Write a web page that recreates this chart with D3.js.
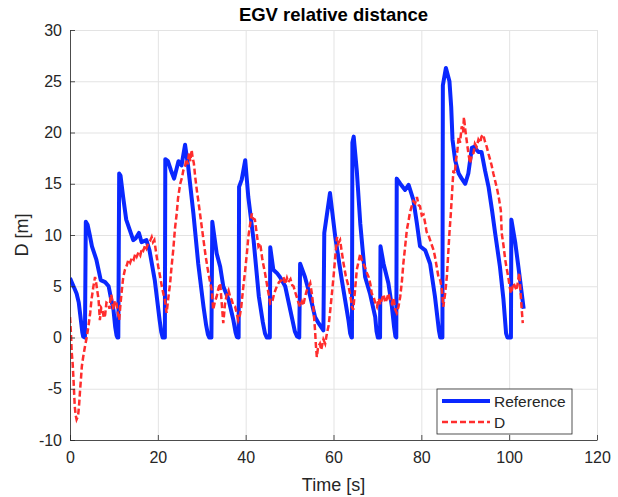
<!DOCTYPE html>
<html>
<head>
<meta charset="utf-8">
<script src="https://cdn.jsdelivr.net/npm/d3@7"></script>
<style>
  body { margin: 0; background: #fff; }
  svg { font-family: "Liberation Sans", Arial, Helvetica, sans-serif; }
  .axis path, .axis line { stroke: #262626; stroke-width: 0.8; }
  .axis text { fill: #262626; font-size: 16px; }
  .grid line { stroke: #e3e3e3; stroke-width: 1; }
  .grid path { display: none; }
</style>
</head>
<body>
<div id="canvas"></div>
<script>
// Reference trajectory (blue)
const refTime = [0, 0.5, 1, 1.5, 2, 2.5, 2.8, 3.0, 3.4, 3.6, 4, 4.5, 5, 6, 6.6, 7, 8, 8.8, 9.2, 9.9, 10.3,
  10.6, 10.8, 11.0, 11.2, 11.5, 12.1, 12.8, 13.6, 14.4, 15.0, 15.7, 16.3, 17.4, 18.1, 19.3, 20.4, 20.8, 21.1,
  21.6, 21.7, 22.3, 23.0, 23.7, 24.7, 25.4, 26.2, 26.9, 28.1, 29.2, 30.4, 31.0, 31.4, 31.7, 32.2, 32.4, 33.4,
  34.2, 34.9, 36.1, 37.2, 37.7, 38.0, 38.4, 38.5, 39.1, 39.9, 40.6, 41.8, 43.0, 43.9, 44.4, 44.8, 45.5, 45.6,
  46.3, 47.1, 47.8, 49.0, 50.5, 51.2, 51.7, 52.2, 52.4, 53.5, 54.7, 55.8, 56.6, 57.7, 57.9, 59.2, 60.4,
  61.9, 63.4, 63.8, 64.1, 64.2, 64.3, 64.6, 65.3, 66.1, 67.2, 68.3, 69.5, 69.8, 70.1, 70.6, 70.7, 71.4, 72.5,
  73.3, 73.8, 74.1, 74.3, 74.4, 75.2, 76.3, 77.1, 78.2, 79.0, 79.7, 80.9, 82.0, 83.1, 84.0, 84.3, 84.8, 84.9,
  85.6, 86.4, 86.8, 87.1, 87.7, 88.5, 89.2, 90.0, 90.7, 91.5, 92.0, 93.0, 93.7, 94.5, 95.3, 96.1,
  96.8, 97.9, 98.7, 99.3, 99.6, 100.4, 100.5, 101.4, 102.1, 103.3];
const refDist = [5.8, 5.3, 4.8, 4.3, 3.4, 1.6, 0.5, 0.1, 0, 11.3, 11.0, 10.0, 8.9, 7.6, 6.4, 5.6, 5.4, 5.0, 4.1, 2.7, 1.0,
  0.2, 0, 0, 16.0, 15.8, 13.7, 11.5, 10.5, 9.5, 9.7, 10.2, 9.3, 9.5, 8.5, 5.6, 1.7, 0.5, 0,
  0, 17.4, 17.2, 16.3, 15.5, 17.2, 16.8, 18.8, 16.7, 12.1, 7.2, 3.0, 1.2, 0.3, 0, 0, 11.3, 8.2,
  6.9, 5.0, 3.7, 1.7, 0.5, 0.05, 0, 14.7, 15.4, 17.3, 13.7, 9.5, 4.0, 1.5, 0.4, 0, 0, 8.8,
  6.6, 6.3, 5.9, 5.0, 2.0, 0.6, 0.1, 0, 7.2, 5.9, 4.0, 2.0, 1.4, 0.7, 10.2, 14.1, 9.8,
  5.6, 1.7, 0.4, 0, 0, 19.0, 19.6, 16.3, 11.1, 5.9, 4.3, 2.0, 0.6, 0, 0, 8.9, 7.2, 5.3,
  3.0, 1.0, 0.1, 0, 15.5, 15.0, 14.4, 14.9, 13.4, 11.1, 8.9, 8.5, 7.2, 4.0, 0.7, 0, 0, 24.6,
  26.3, 25.0, 22.5, 19.3, 17.3, 16.0, 15.5, 15.0, 16.0, 18.5, 18.6, 18.1, 18.1, 16.3, 14.7, 12.4,
  10.2, 6.9, 3.7, 0.4, 0, 0, 11.5, 9.2, 6.9, 2.8];

// Measured distance D (red, noisy)
const dTime = [0, 0.2, 0.4, 0.6, 0.8, 1.0, 1.1, 1.3, 1.5, 1.7, 1.9, 2.1, 2.3, 2.5, 2.7, 3.0, 3.4, 3.8, 4.2, 4.6,
  4.9, 5.3, 5.7, 5.9, 6.2, 6.5, 6.8, 7.1, 7.4, 7.7, 8.0, 8.3, 8.7, 9.0, 9.3, 9.5, 9.7, 9.9, 10.2, 10.6,
  10.9, 11.2, 11.5, 11.8, 12.1, 12.5, 12.9, 13.3, 13.7, 14.1, 14.5, 14.9, 15.2, 15.6, 16.0, 16.4, 16.7, 17.1, 17.4, 17.8,
  18.2, 18.6, 18.9, 19.2, 19.4, 19.7, 20.1, 20.5, 20.9, 21.3, 21.6, 22.0, 22.4, 22.8, 23.1, 23.5, 23.9, 24.3, 24.6, 25.1,
  25.5, 25.8, 26.2, 26.5, 26.8, 27.1, 27.4, 27.7, 27.9, 28.2, 28.5, 28.9, 29.2, 29.6, 30.0, 30.4, 30.9, 31.5, 31.9, 32.3,
  32.6, 33.0, 33.4, 33.8, 34.2, 34.5, 34.9, 35.3, 35.7, 36.1, 36.5, 36.8, 37.2, 37.6, 38.0, 38.3, 38.7, 39.0, 39.4, 39.9,
  40.3, 40.6, 41.0, 41.4, 41.7, 42.1, 42.5, 42.9, 43.3, 43.8, 44.4, 45.0, 45.6, 46.0, 46.5, 47.1, 47.6, 48.2, 48.6, 49.0,
  49.4, 49.7, 50.2, 50.6, 50.9, 51.3, 51.6, 52.0, 52.4, 52.8, 53.1, 53.5, 53.9, 54.3, 54.7, 55.1, 55.4, 55.8, 56.0, 56.2,
  56.5, 56.9, 57.2, 57.7, 58.1, 58.5, 58.9, 59.2, 59.6, 60.0, 60.4, 60.8, 61.1, 61.5, 61.9, 62.3, 62.8, 63.4, 63.8, 64.2,
  64.5, 64.9, 65.3, 65.7, 66.1, 66.4, 66.8, 67.2, 67.6, 68.0, 68.4, 68.7, 69.1, 69.5, 69.9, 70.3, 70.7, 71.0, 71.4, 71.8,
  72.1, 72.5, 72.9, 73.3, 73.7, 74.0, 74.4, 74.8, 75.2, 75.6, 75.9, 76.3, 76.7, 77.1, 77.4, 77.8, 78.2, 78.6, 79.0, 79.4,
  79.7, 80.1, 80.5, 80.9, 81.2, 81.6, 82.0, 82.4, 82.8, 83.1, 83.5, 83.9, 84.3, 84.7, 85.0, 85.4, 85.8, 86.1, 86.4, 86.7,
  86.9, 87.3, 87.6, 87.9, 88.2, 88.5, 88.8, 89.2, 89.5, 89.7, 90.0, 90.3, 90.7, 91.1, 91.5, 91.9, 92.2, 92.6, 93.0, 93.4,
  93.7, 94.1, 94.5, 94.9, 95.3, 95.7, 96.0, 96.4, 96.8, 97.3, 97.7, 98.1, 98.3, 98.7, 99.1, 99.4, 99.8, 100.1, 100.4, 100.7,
  101.0, 101.4, 101.7, 102.0, 102.3, 102.5, 102.7, 102.9, 103.1];
const dDist = [2.0, 0.5, -1.5, -2.5, -4.1, -6.0, -6.8, -7.6, -8.0, -7.8, -7.4, -6.4, -5.1, -4.0, -2.8, -1.9, -0.9, 0.0, 1.1, 2.4,
  3.7, 4.9, 5.9, 5.5, 4.6, 3.7, 1.7, 2.9, 2.7, 1.9, 2.2, 3.4, 3.3, 2.8, 4.2, 4.0, 3.2, 2.7, 3.6, 3.3,
  2.4, 1.7, 3.3, 4.6, 5.8, 6.6, 7.0, 7.6, 7.3, 7.8, 7.6, 8.2, 7.9, 8.3, 8.0, 8.7, 8.5, 9.0, 8.7, 9.2,
  9.4, 9.8, 9.3, 9.5, 8.9, 8.0, 6.9, 6.0, 5.0, 4.2, 3.7, 2.4, 3.9, 5.3, 6.8, 8.5, 10.6, 12.1, 13.6, 15.0,
  15.6, 16.3, 16.7, 17.4, 16.9, 18.0, 17.2, 18.3, 17.6, 17.0, 15.7, 14.3, 13.4, 12.1, 10.8, 9.5, 7.9, 6.3, 5.4, 4.6,
  2.7, 3.5, 4.0, 4.8, 5.3, 3.6, 1.4, 3.3, 4.2, 4.6, 3.9, 3.7, 3.1, 3.0, 2.3, 1.7, 2.2, 3.0, 4.7, 6.6,
  8.3, 9.8, 11.0, 12.1, 11.6, 11.5, 10.2, 8.9, 9.2, 7.6, 6.3, 4.8, 3.3, 3.4, 4.3, 5.0, 5.4, 5.6, 5.9, 5.2,
  5.8, 5.4, 5.7, 5.1, 5.0, 4.4, 4.0, 3.4, 3.0, 3.5, 3.1, 3.9, 4.6, 4.9, 5.3, 4.2, 3.0, 0.7, -0.8, -1.9,
  -0.9, -0.6, -1.2, -0.2, -0.6, 0.4, 1.2, 2.4, 4.1, 5.9, 7.9, 9.8, 9.2, 9.5, 8.3, 7.2, 6.0, 5.0, 4.2, 3.0,
  2.7, 4.6, 6.6, 7.4, 8.2, 7.6, 7.2, 6.8, 6.3, 5.9, 5.2, 4.3, 4.0, 3.4, 3.0, 3.8, 3.2, 3.7, 4.2, 3.4,
  3.7, 4.3, 3.6, 3.3, 3.9, 2.8, 2.4, 3.0, 4.0, 5.6, 7.2, 8.8, 10.5, 11.4, 12.2, 12.8, 13.3, 13.1, 13.7, 12.9,
  12.8, 11.9, 12.0, 11.1, 10.3, 10.0, 9.5, 9.0, 8.5, 7.9, 6.9, 5.9, 5.6, 4.6, 3.0, 4.2, 5.9, 8.0, 10.2, 12.0,
  13.4, 16.3, 16.0, 17.3, 18.2, 19.6, 19.0, 20.6, 20.0, 21.5, 20.3, 19.3, 18.0, 17.0, 17.8, 18.0, 18.9, 18.6, 19.3, 19.0,
  19.6, 19.8, 19.1, 18.6, 17.9, 17.3, 16.8, 16.0, 15.3, 14.4, 13.5, 12.4, 10.2, 9.0, 7.6, 6.8, 5.9, 5.0, 4.3, 4.8,
  5.3, 4.9, 4.6, 5.5, 6.3, 5.0, 3.7, 2.5, 1.4];

const xTicks = [0, 20, 40, 60, 80, 100, 120];
const yTicks = [-10, -5, 0, 5, 10, 15, 20, 25, 30];

const width = 618, height = 497;
const plotLeft = 70, plotRight = 597, plotTop = 30, plotBottom = 440;

const refColor = "#0a28ff";
const dColor = "#ff2d2d";

const svg = d3.select("#canvas").append("svg")
  .attr("width", width)
  .attr("height", height);

const x = d3.scaleLinear().domain([0, 120]).range([plotLeft, plotRight]);
const y = d3.scaleLinear().domain([-10, 30]).range([plotBottom, plotTop]);

// grid lines first so data sits on top
svg.append("g")
  .attr("class", "grid")
  .attr("transform", `translate(0,${plotBottom})`)
  .call(d3.axisBottom(x).tickValues(xTicks).tickSize(-(plotBottom - plotTop)).tickFormat(""));
svg.append("g")
  .attr("class", "grid")
  .attr("transform", `translate(${plotLeft},0)`)
  .call(d3.axisLeft(y).tickValues(yTicks).tickSize(-(plotRight - plotLeft)).tickFormat(""));

svg.append("defs").append("clipPath")
  .attr("id", "plot-clip")
  .append("rect")
  .attr("x", plotLeft).attr("y", plotTop)
  .attr("width", plotRight - plotLeft).attr("height", plotBottom - plotTop);

const refData = refTime.map((t, i) => [t, refDist[i]]);
const dData = dTime.map((t, i) => [t, dDist[i]]);

const line = d3.line()
  .x(d => x(d[0]))
  .y(d => y(d[1]));

const plot = svg.append("g").attr("clip-path", "url(#plot-clip)");

plot.append("path")
  .datum(refData)
  .attr("fill", "none")
  .attr("stroke", refColor)
  .attr("stroke-width", 4)
  .attr("stroke-linejoin", "round")
  .attr("d", line);

plot.append("path")
  .datum(dData)
  .attr("fill", "none")
  .attr("stroke", dColor)
  .attr("stroke-width", 2.5)
  .attr("stroke-dasharray", "6,3")
  .attr("d", line);

// axes (ticks point inward, MATLAB style); plain hyphen for negatives
const fmt = d => String(d);
svg.append("g")
  .attr("class", "axis")
  .attr("transform", `translate(0,${plotBottom})`)
  .call(d3.axisBottom(x).tickValues(xTicks).tickFormat(fmt).tickSize(-5).tickSizeOuter(0).tickPadding(12));
svg.append("g")
  .attr("class", "axis")
  .attr("transform", `translate(${plotLeft},0)`)
  .call(d3.axisLeft(y).tickValues(yTicks).tickFormat(fmt).tickSize(-5).tickSizeOuter(0).tickPadding(8));

svg.append("text")
  .attr("x", (plotLeft + plotRight) / 2)
  .attr("y", 21)
  .attr("text-anchor", "middle")
  .attr("font-weight", "bold")
  .attr("font-size", 18.5)
  .attr("fill", "#000")
  .text("EGV relative distance");

svg.append("text")
  .attr("x", (plotLeft + plotRight) / 2)
  .attr("y", 491)
  .attr("text-anchor", "middle")
  .attr("font-size", 18)
  .attr("fill", "#262626")
  .text("Time [s]");

svg.append("text")
  .attr("transform", `translate(28,${(plotTop + plotBottom) / 2}) rotate(-90)`)
  .attr("text-anchor", "middle")
  .attr("font-size", 18)
  .attr("fill", "#262626")
  .text("D [m]");

// legend box
const legend = svg.append("g").attr("transform", "translate(437,389)");
legend.append("rect")
  .attr("width", 135).attr("height", 45)
  .attr("fill", "#fff")
  .attr("stroke", "#262626")
  .attr("stroke-width", 0.8);

const legendItems = [
  { label: "Reference", color: refColor, width: 4, dash: null },
  { label: "D", color: dColor, width: 2.5, dash: "6,3" }
];

legendItems.forEach((item, i) => {
  const yy = 12 + i * 21;
  legend.append("line")
    .attr("x1", 5).attr("x2", 53)
    .attr("y1", yy).attr("y2", yy)
    .attr("stroke", item.color)
    .attr("stroke-width", item.width)
    .attr("stroke-dasharray", item.dash);
  legend.append("text")
    .attr("x", 57)
    .attr("y", yy + 5.5)
    .attr("font-size", 15.5)
    .attr("fill", "#262626")
    .text(item.label);
});
</script>
</body>
</html>
